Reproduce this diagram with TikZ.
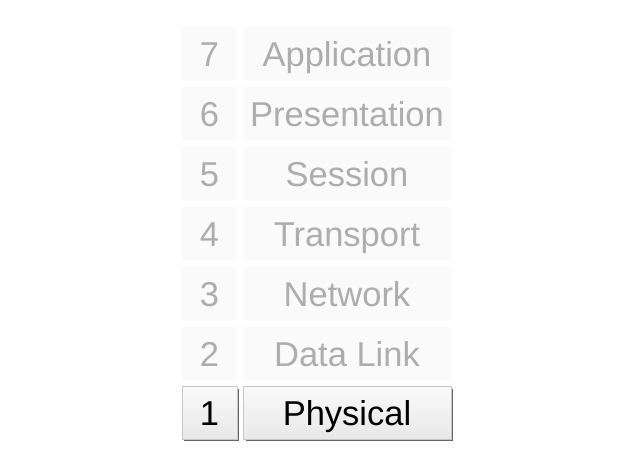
\documentclass[tikz,border=0pt]{standalone}
\usepackage{fontspec}
\setmainfont{Liberation Sans}
\begin{document}
\begin{tikzpicture}[x=1pt,y=-1pt,
  txt/.style={font=\fontsize{34.5}{38}\selectfont,inner sep=0pt,minimum height=53pt,text height=25pt,text depth=0pt},
  faded/.style={txt,draw=none,fill=black!2,text=black!32},
  active/.style={txt,draw=black!22,line width=0.5pt,top color=black!2,bottom color=black!9,text=black},
  numw/.style={minimum width=55pt},
  labw/.style={minimum width=208pt}]
\useasboundingbox[fill=white] (0,0) rectangle (633,468);
\foreach \n/\t [count=\i from 0] in {7/Application,6/Presentation,5/Session,4/Transport,3/Network,2/Data Link}{
  \node[faded,numw] (n\n) at (209.5,{54+60*\i}) {\n};
  \node[faded,labw] (l\n) at (347,{54+60*\i}) {\t};
}
% shadows for active row
\fill[black!60] (184,389) rectangle (239,441);
\fill[black!60] (245.5,389) rectangle (453,441);
\node[active,numw] (n1) at (209.5,412.5) {1};
\node[active,labw] (l1) at (347,412.5) {Physical};
\end{tikzpicture}
\end{document}
